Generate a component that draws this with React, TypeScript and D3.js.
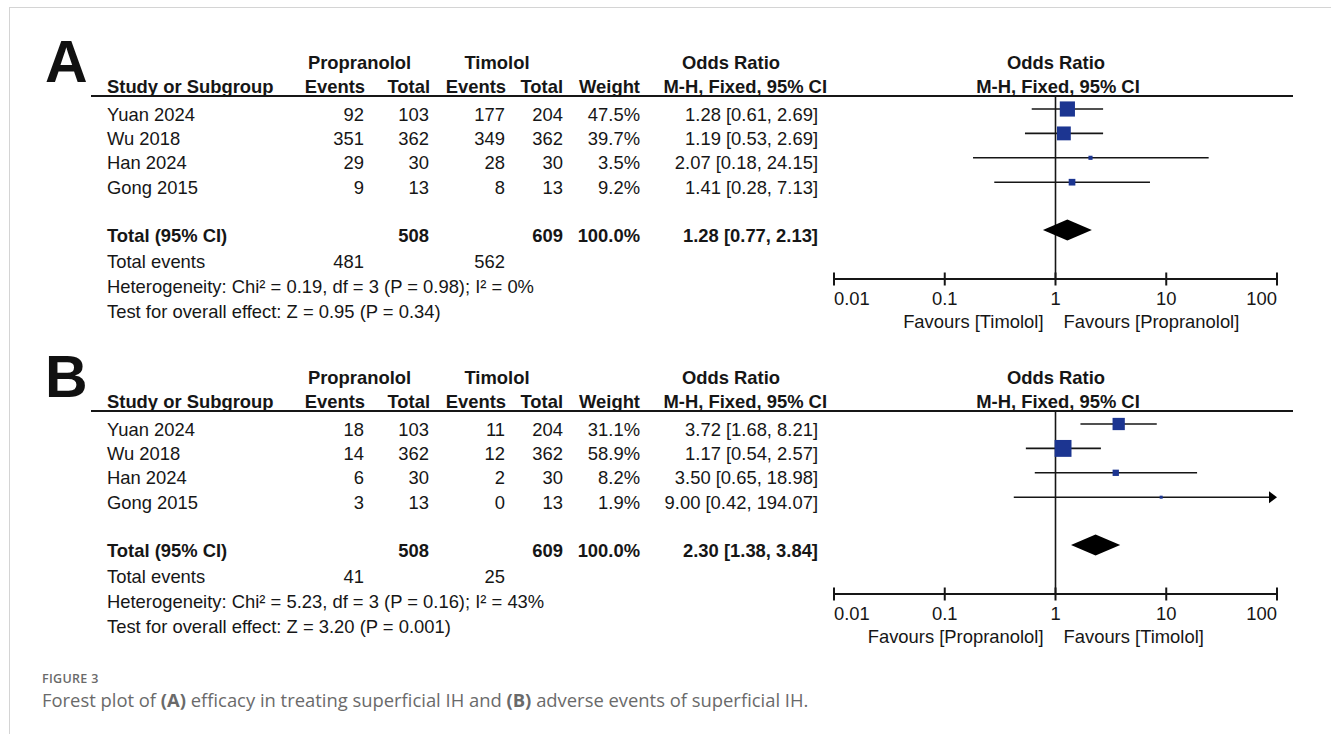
import React from "react";
import * as d3 from "d3";

// Study rows shared by both panels
const studies = ["Yuan 2024", "Wu 2018", "Han 2024", "Gong 2015"];
const propTotals = [103, 362, 30, 13];
const timTotals = [204, 362, 30, 13];

// Panel A: efficacy
const aPropEvents = [92, 351, 29, 9];
const aTimEvents = [177, 349, 28, 8];
const aWeights = [47.5, 39.7, 3.5, 9.2];
const aOR = [1.28, 1.19, 2.07, 1.41];
const aLo = [0.61, 0.53, 0.18, 0.28];
const aHi = [2.69, 2.69, 24.15, 7.13];
const aPooled = { or: 1.28, lo: 0.77, hi: 2.13 };
const aTotalEvents = [481, 562];
const aHet = "Heterogeneity: Chi² = 0.19, df = 3 (P = 0.98); I² = 0%";
const aTest = "Test for overall effect: Z = 0.95 (P = 0.34)";

// Panel B: adverse events
const bPropEvents = [18, 14, 6, 3];
const bTimEvents = [11, 12, 2, 0];
const bWeights = [31.1, 58.9, 8.2, 1.9];
const bOR = [3.72, 1.17, 3.5, 9.0];
const bLo = [1.68, 0.54, 0.65, 0.42];
const bHi = [8.21, 2.57, 18.98, 194.07];
const bPooled = { or: 2.3, lo: 1.38, hi: 3.84 };
const bTotalEvents = [41, 25];
const bHet = "Heterogeneity: Chi² = 5.23, df = 3 (P = 0.16); I² = 43%";
const bTest = "Test for overall effect: Z = 3.20 (P = 0.001)";

const pooledTotals = [508, 609];
const axisTicks = [0.01, 0.1, 1, 10, 100];
const tickLabels = ["0.01", "0.1", "1", "10", "100"];

const FONT = "'Liberation Sans', Arial, Helvetica, sans-serif";
const INK = "#161616";
const SQUARE = "#1c3591";
const FS = 18.4;

const x = d3.scaleLog().domain([0.01, 100]).range([834, 1277]);
const fmt2 = d3.format(".2f");
const ciText = (o: number, l: number, h: number) => `${fmt2(o)} [${fmt2(l)}, ${fmt2(h)}]`;

type PanelProps = {
  letter: string;
  dy: number;
  propEvents: number[];
  timEvents: number[];
  weights: number[];
  or: number[];
  lo: number[];
  hi: number[];
  pooled: { or: number; lo: number; hi: number };
  totalEvents: number[];
  het: string;
  test: string;
  favLeft: string;
  favRight: string;
};

function Panel(p: PanelProps) {
  const rowY = (i: number) => 120.5 + i * 24.4;
  const totalY = 241.5;
  const axisY = 279;
  const [xmin, xmax] = x.range();
  const col = { pe: 364, pt: 429, te: 505, tt: 563, w: 640, ci: 818 };
  const txt = { fontFamily: FONT, fontSize: FS, fill: INK } as const;
  const bold = { ...txt, fontWeight: 700 } as const;

  return (
    <g transform={`translate(0,${p.dy})`}>
      <text x={45} y={82} style={{ fontFamily: FONT, fontSize: 59, fontWeight: 700, fill: "#111" }}>
        {p.letter}
      </text>

      {/* group headers */}
      <text x={359.5} y={68.5} textAnchor="middle" style={bold}>Propranolol</text>
      <text x={497} y={68.5} textAnchor="middle" style={bold}>Timolol</text>
      <text x={731} y={68.5} textAnchor="middle" style={bold}>Odds Ratio</text>
      <text x={1056} y={68.5} textAnchor="middle" style={bold}>Odds Ratio</text>

      <text x={107} y={93} style={bold}>Study or Subgroup</text>
      <text x={365} y={93} textAnchor="end" style={bold}>Events</text>
      <text x={430} y={93} textAnchor="end" style={bold}>Total</text>
      <text x={506} y={93} textAnchor="end" style={bold}>Events</text>
      <text x={563} y={93} textAnchor="end" style={bold}>Total</text>
      <text x={640} y={93} textAnchor="end" style={bold}>Weight</text>
      <text x={827} y={93} textAnchor="end" style={bold}>M-H, Fixed, 95% CI</text>
      <text x={1058} y={93} textAnchor="middle" style={bold}>M-H, Fixed, 95% CI</text>
      <line x1={91} x2={1293} y1={96} y2={96} stroke={INK} strokeWidth={2} />

      {/* study rows */}
      {studies.map((s, i) => (
        <g key={s}>
          <text x={107} y={rowY(i)} style={txt}>{s}</text>
          <text x={col.pe} y={rowY(i)} textAnchor="end" style={txt}>{p.propEvents[i]}</text>
          <text x={col.pt} y={rowY(i)} textAnchor="end" style={txt}>{propTotals[i]}</text>
          <text x={col.te} y={rowY(i)} textAnchor="end" style={txt}>{p.timEvents[i]}</text>
          <text x={col.tt} y={rowY(i)} textAnchor="end" style={txt}>{timTotals[i]}</text>
          <text x={col.w} y={rowY(i)} textAnchor="end" style={txt}>{p.weights[i].toFixed(1)}%</text>
          <text x={col.ci} y={rowY(i)} textAnchor="end" style={txt}>{ciText(p.or[i], p.lo[i], p.hi[i])}</text>
        </g>
      ))}

      {/* totals */}
      <text x={107} y={totalY} style={bold}>Total (95% CI)</text>
      <text x={col.pt} y={totalY} textAnchor="end" style={bold}>{pooledTotals[0]}</text>
      <text x={col.tt} y={totalY} textAnchor="end" style={bold}>{pooledTotals[1]}</text>
      <text x={col.w} y={totalY} textAnchor="end" style={bold}>100.0%</text>
      <text x={col.ci} y={totalY} textAnchor="end" style={bold}>{ciText(p.pooled.or, p.pooled.lo, p.pooled.hi)}</text>
      <text x={107} y={268} style={txt}>Total events</text>
      <text x={col.pe} y={268} textAnchor="end" style={txt}>{p.totalEvents[0]}</text>
      <text x={col.te} y={268} textAnchor="end" style={txt}>{p.totalEvents[1]}</text>
      <text x={107} y={293} style={txt}>{p.het}</text>
      <text x={107} y={317.5} style={txt}>{p.test}</text>

      {/* forest plot */}
      <line x1={x(1)} x2={x(1)} y1={96} y2={axisY} stroke={INK} strokeWidth={1.6} />
      {studies.map((s, i) => {
        const cy = rowY(i) - 11.5;
        const clipped = p.hi[i] > 100;
        const x2 = clipped ? xmax : x(p.hi[i]);
        const side = 2.2 * Math.sqrt(p.weights[i]);
        return (
          <g key={`m-${s}`}>
            <line x1={x(p.lo[i])} x2={clipped ? x2 - 6 : x2} y1={cy} y2={cy} stroke={INK} strokeWidth={1.6} />
            {clipped && (
              <path d={`M${x2 - 8},${cy - 6}L${x2},${cy}L${x2 - 8},${cy + 6}Z`} fill="#000" />
            )}
            <rect x={x(p.or[i]) - side / 2} y={cy - side / 2} width={side} height={side} fill={SQUARE} />
          </g>
        );
      })}
      <path
        d={`M${x(p.pooled.lo)},${totalY - 11.5}L${x(p.pooled.or)},${totalY - 22}L${x(p.pooled.hi)},${totalY - 11.5}L${x(p.pooled.or)},${totalY - 1}Z`}
        fill="#000"
      />

      {/* log axis */}
      <line x1={xmin} x2={xmax} y1={axisY} y2={axisY} stroke={INK} strokeWidth={2} />
      {axisTicks.map((t, i) => (
        <g key={`t-${t}`}>
          <line x1={x(t)} x2={x(t)} y1={axisY - 6.5} y2={axisY + 6.5} stroke={INK} strokeWidth={2} />
          <text
            x={x(t)}
            y={305}
            textAnchor={i === 0 ? "start" : i === axisTicks.length - 1 ? "end" : "middle"}
            style={txt}
          >
            {tickLabels[i]}
          </text>
        </g>
      ))}
      <text x={x(1) - 12} y={328} textAnchor="end" style={txt}>{p.favLeft}</text>
      <text x={x(1) + 8} y={328} style={txt}>{p.favRight}</text>
    </g>
  );
}

export default function App() {
  const cap = { fontFamily: "'Open Sans', 'Noto Sans', sans-serif", fill: "#6a6a6a" } as const;
  return (
    <svg
      width={1331}
      height={734}
      viewBox="0 0 1331 734"
      style={{ position: "absolute", left: 0, top: 0, background: "#fff" }}
    >
      <rect x={0} y={0} width={1331} height={734} fill="#fff" />
      <line x1={9} x2={1331} y1={7.5} y2={7.5} stroke="#d4d4d4" strokeWidth={1} />
      <line x1={9.5} x2={9.5} y1={7} y2={734} stroke="#d4d4d4" strokeWidth={1} />

      <Panel
        letter="A"
        dy={0}
        propEvents={aPropEvents}
        timEvents={aTimEvents}
        weights={aWeights}
        or={aOR}
        lo={aLo}
        hi={aHi}
        pooled={aPooled}
        totalEvents={aTotalEvents}
        het={aHet}
        test={aTest}
        favLeft="Favours [Timolol]"
        favRight="Favours [Propranolol]"
      />
      <Panel
        letter="B"
        dy={315}
        propEvents={bPropEvents}
        timEvents={bTimEvents}
        weights={bWeights}
        or={bOR}
        lo={bLo}
        hi={bHi}
        pooled={bPooled}
        totalEvents={bTotalEvents}
        het={bHet}
        test={bTest}
        favLeft="Favours [Propranolol]"
        favRight="Favours [Timolol]"
      />

      <text x={42} y={682.5} style={{ ...cap, fontSize: 12.5, fontWeight: 600, letterSpacing: 0.3 }}>
        FIGURE 3
      </text>
      <text x={42} y={706.5} style={{ ...cap, fontSize: 18.4 }}>
        Forest plot of <tspan fontWeight={700}>(A)</tspan> efficacy in treating superficial IH and{" "}
        <tspan fontWeight={700}>(B)</tspan> adverse events of superficial IH.
      </text>
    </svg>
  );
}
